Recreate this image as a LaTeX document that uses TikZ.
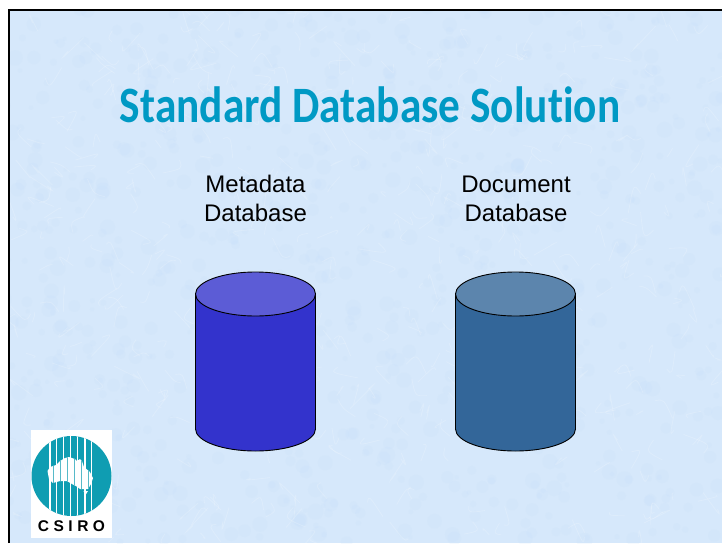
\documentclass[tikz,border=0pt]{standalone}
\usepackage{fontspec}
\usepackage{graphicx}
\setmainfont{Liberation Sans}
\newfontfamily\titlefont[Ligatures={NoCommon,NoRare}]{Carlito}
\definecolor{pagebg}{HTML}{D6E8FB}
\definecolor{blotch}{HTML}{C4DFFA}
\definecolor{titleblue}{HTML}{0099C4}
\definecolor{bodyA}{HTML}{3333CC}
\definecolor{topA}{HTML}{5C5CD6}
\definecolor{bodyB}{HTML}{336699}
\definecolor{topB}{HTML}{5C85AD}
\definecolor{logoteal}{HTML}{0F9DB2}
\tikzset{
  x=1pt,y=-1pt,
  cylside/.style={draw=black,line width=0.9pt},
  cyltop/.style={draw=black,line width=0.9pt},
  caption/.style={font=\fontsize{24}{29}\selectfont,align=center,text=black},
  logostripe/.style={line width=1.7pt,draw=white},
  landstripe/.style={line width=0.7pt,draw=logoteal!70}
}
\begin{document}
\begin{tikzpicture}
\useasboundingbox (0,0) rectangle (722,543);
\fill[white] (0,0) rectangle (722,543);
\fill[pagebg] (9,10) rectangle (722,543);
\begin{scope}
\clip (9,10) rectangle (722,543);
\pgfmathsetseed{4242}
\foreach \i in {1,...,900} {
  \pgfmathsetmacro{\bx}{rnd*722}
  \pgfmathsetmacro{\by}{rnd*543}
  \pgfmathsetmacro{\br}{2+rnd*6}
  \fill[blotch,opacity=0.16] (\bx,\by) circle[radius=\br];
}
\foreach \i in {1,...,500} {
  \pgfmathsetmacro{\ax}{rnd*722}
  \pgfmathsetmacro{\ay}{rnd*543}
  \pgfmathsetmacro{\dx}{(rnd-0.5)*40}
  \pgfmathsetmacro{\dy}{(rnd-0.5)*40}
  \pgfmathsetmacro{\cx}{(rnd-0.5)*24}
  \pgfmathsetmacro{\cy}{(rnd-0.5)*24}
  \draw[white,opacity=0.18,line width=0.8pt] (\ax,\ay) .. controls (\ax+\cx,\ay+\cy) .. (\ax+\dx,\ay+\dy);
}
\end{scope}
\draw[black,line width=2.2pt] (9,543) -- (9,10) -- (722,10);
\node[font=\titlefont\bfseries\fontsize{51}{55}\selectfont,text=titleblue,anchor=base] (title) at (370,122) {\scalebox{0.85}[1]{Standard Database Solution}};
\node[caption] (meta) at (255.5,198.5) {Metadata\\Database};
\node[caption] (doc) at (516,199) {Document\\Database};
% cylinders
\path[fill=bodyA,cylside] (195.5,294) -- (195.5,429) arc[start angle=180,end angle=0,x radius=60,y radius=22] -- (315.5,294) -- cycle;
\path[fill=topA,cyltop] (255.5,294) ellipse[x radius=60,y radius=22];
\path[fill=bodyB,cylside] (455.5,294) -- (455.5,429) arc[start angle=180,end angle=0,x radius=60,y radius=22] -- (575.5,294) -- cycle;
\path[fill=topB,cyltop] (515.5,294) ellipse[x radius=60,y radius=22];
% logo
\fill[white] (31,430) rectangle (112,538);
\fill[logoteal] (71.5,476) circle[radius=40];
\begin{scope}
\clip (71.5,476) circle[radius=40];
\foreach \sx in {50,56.5,63.5,70.5,77.5,85,91.5} \draw[logostripe] (\sx,430) -- (\sx,520);
\end{scope}
\begin{scope}
\fill[white] (47.5,471) -- (50,467) -- (56,465) -- (60,461) -- (65,458) -- (69,457) -- (75,459) -- (77,461) -- (80,459) -- (82,461) -- (84,467) -- (90,472) -- (93,478) -- (91,484) -- (88,489) -- (80,489) -- (76,486) -- (72,484) -- (67,481) -- (60,481) -- (53,483) -- (49,479) -- cycle;
\fill[white] (83.5,491) -- (88,491) -- (85.5,495) -- cycle;
\clip (47.5,471) -- (50,467) -- (56,465) -- (60,461) -- (65,458) -- (69,457) -- (75,459) -- (77,461) -- (80,459) -- (82,461) -- (84,467) -- (90,472) -- (93,478) -- (91,484) -- (88,489) -- (80,489) -- (76,486) -- (72,484) -- (67,481) -- (60,481) -- (53,483) -- (49,479) -- cycle;
\foreach \sx in {53.3,60,67,74,81.3,88.3} \draw[landstripe] (\sx,450) -- (\sx,500);
\end{scope}
\node[font=\bfseries\fontsize{15.5}{17}\selectfont,anchor=base,text=black] (logotext) at (71.5,531) {C\hspace{4.5pt}S\hspace{4.5pt}I\hspace{4.5pt}R\hspace{4.5pt}O};
\end{tikzpicture}
\end{document}
